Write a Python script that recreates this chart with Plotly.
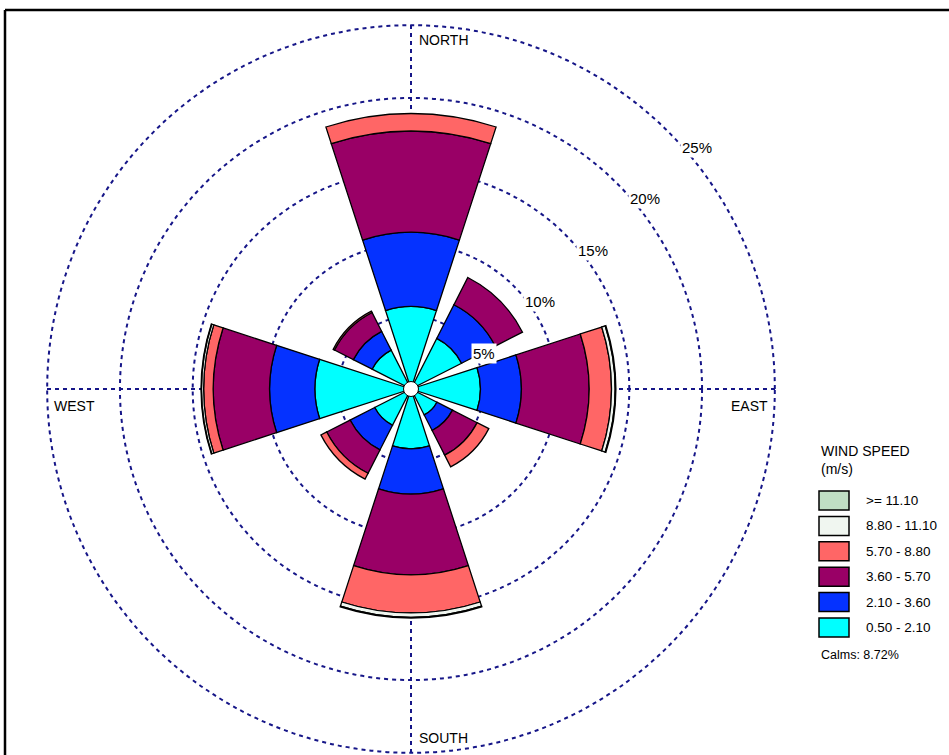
import math
import plotly.graph_objects as go

# ---------------- data ----------------
directions = ["N", "NE", "E", "SE", "S", "SW", "W", "NW"]
theta_deg = [0, 45, 90, 135, 180, 225, 270, 315]

# frequency (%) per direction for each wind-speed class (m/s)
speed_0_5_2_1 = [5.67, 3.90, 4.77, 2.00, 4.11, 2.80, 6.60, 3.00]
speed_2_1_3_6 = [5.09, 2.60, 2.81, 1.20, 3.10, 1.90, 3.11, 1.45]
speed_3_6_5_7 = [6.97, 2.10, 4.65, 1.90, 5.55, 1.80, 3.87, 1.45]
speed_5_7_8_8 = [1.20, 0.00, 1.55, 0.90, 2.63, 0.45, 0.67, 0.10]
speed_8_8_11_1 = [0.00, 0.00, 0.25, 0.00, 0.30, 0.00, 0.15, 0.00]
speed_ge_11_1 = [0.00, 0.00, 0.05, 0.00, 0.05, 0.00, 0.03, 0.00]

bin_labels = ["0.50 - 2.10", "2.10 - 3.60", "3.60 - 5.70",
              "5.70 - 8.80", "8.80 - 11.10", ">= 11.10"]
bin_values = [speed_0_5_2_1, speed_2_1_3_6, speed_3_6_5_7,
              speed_5_7_8_8, speed_8_8_11_1, speed_ge_11_1]
bin_colors = ["#00FFFF", "#0532FF", "#990066", "#FF6666", "#F0F6F0", "#C0DEC4"]

ring_values = [5, 10, 15, 20, 25]
compass_labels = ["NORTH", "EAST", "SOUTH", "WEST"]
calms_pct = 8.72

# ---------------- layout constants ----------------
W, H = 949, 755
CX, CY, R = 411, 389, 366          # polar centre / radius in pixels
RANGE_MAX = 25.15                  # radial range so that the 25 % ring is drawn
GRID = "#161688"
FONT = "Liberation Sans, Arial, sans-serif"


def px(x):
    return x / W


def py(y):
    return 1 - y / H


fig = go.Figure()

for label, vals, col in zip(bin_labels, bin_values, bin_colors):
    fig.add_trace(go.Barpolar(
        r=vals, theta=theta_deg, width=[36] * len(theta_deg),
        name=label, marker=dict(color=col, line=dict(color="black", width=1.3)),
        showlegend=False,
    ))

# calm circle at the centre
fig.add_trace(go.Scatterpolar(
    r=[0], theta=[0], mode="markers",
    marker=dict(size=15, color="white", line=dict(color="black", width=1)),
    showlegend=False, hoverinfo="skip",
))

fig.update_layout(
    width=W, height=H,
    margin=dict(l=0, r=0, t=0, b=0),
    paper_bgcolor="white",
    font=dict(family=FONT, color="black"),
    polar=dict(
        domain=dict(x=[px(CX - R), px(CX + R)], y=[py(CY + R), py(CY - R)]),
        bgcolor="white",
        barmode="stack",
        radialaxis=dict(range=[0, RANGE_MAX], tickvals=ring_values,
                        showticklabels=False, ticks="", showline=False,
                        gridcolor=GRID, griddash="4px,4px", gridwidth=1.5),
        angularaxis=dict(direction="clockwise", rotation=90,
                         tickvals=[0, 90, 180, 270], showticklabels=False,
                         ticks="", showline=False,
                         gridcolor=GRID, griddash="4px,4px", gridwidth=1.5),
    ),
)

annotations = []
# ring labels (along the NE diagonal)
for v in ring_values:
    rp = R * v / RANGE_MAX
    x0 = CX + rp * math.cos(math.radians(45)) + 8 + 0.15 * v
    y0 = CY - rp * math.sin(math.radians(45)) + 5
    annotations.append(dict(
        x=px(x0), y=py(y0), xref="paper", yref="paper",
        xanchor="left", yanchor="top", text=f"{v}%", showarrow=False,
        font=dict(size=15, family=FONT), bgcolor="white", borderpad=1))

# compass labels
compass_pos = {"NORTH": (417, 40, "left"), "SOUTH": (417, 738, "left"),
               "WEST": (52, 406, "left"), "EAST": (770, 406, "right")}
for lab in compass_labels:
    x0, y0, anc = compass_pos[lab]
    annotations.append(dict(
        x=px(x0), y=py(y0), xref="paper", yref="paper",
        xanchor=anc, yanchor="middle", text=lab, showarrow=False,
        font=dict(size=14, family=FONT)))

# legend (drawn manually)
annotations.append(dict(
    x=px(819), y=py(441), xref="paper", yref="paper", xanchor="left",
    yanchor="top", align="left", text="WIND SPEED<br>(m/s)", showarrow=False,
    font=dict(size=14, family=FONT)))

shapes = []
legend_order = list(range(len(bin_labels)))[::-1]
for i, b in enumerate(legend_order):
    top = 491 + i * 25.4
    shapes.append(dict(type="rect", xref="paper", yref="paper",
                       x0=px(819), x1=px(849), y0=py(top + 19), y1=py(top),
                       fillcolor=bin_colors[b],
                       line=dict(color="black", width=1.5)))
    annotations.append(dict(
        x=px(864), y=py(top + 9.5), xref="paper", yref="paper",
        xanchor="left", yanchor="middle", text=bin_labels[b], showarrow=False,
        font=dict(size=13.5, family=FONT)))

annotations.append(dict(
    x=px(819), y=py(655), xref="paper", yref="paper", xanchor="left",
    yanchor="middle", text=f"Calms: {calms_pct:.2f}%", showarrow=False,
    font=dict(size=12.5, family=FONT)))

# frame lines (top and left)
shapes.append(dict(type="line", xref="paper", yref="paper",
                   x0=px(5), x1=1, y0=py(10), y1=py(10),
                   line=dict(color="black", width=2.5)))
shapes.append(dict(type="line", xref="paper", yref="paper",
                   x0=px(5), x1=px(5), y0=py(10), y1=0,
                   line=dict(color="black", width=2.5)))

fig.update_layout(annotations=annotations, shapes=shapes)

fig.write_html("out.html")
